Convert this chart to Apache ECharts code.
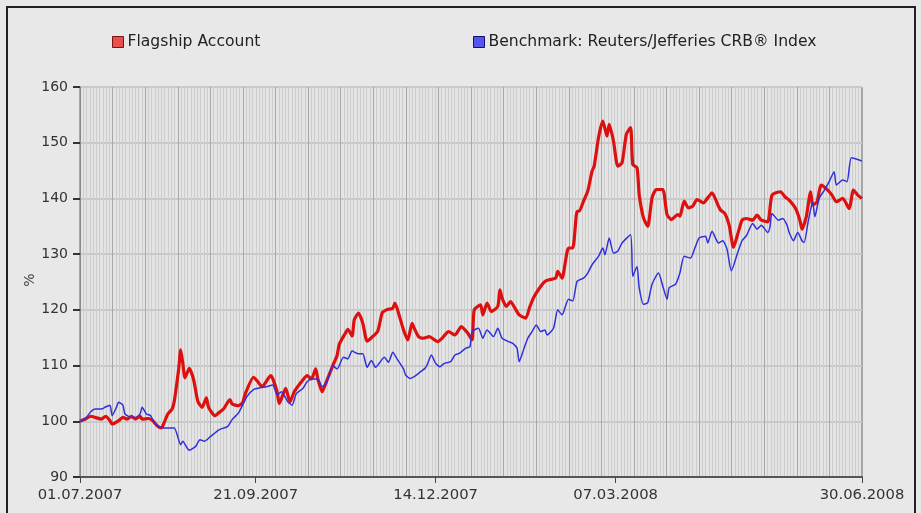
<!DOCTYPE html>
<html lang="en">
<head>
	<meta charset="UTF-8">
	<title>Flagship Account vs CRB Index</title>
	<style type="text/css">
	html, body {
		margin: 0;
		padding: 0;
		background: #e8e8e8;
	}
	.chart {
		width: 921px;
		height: 513px;
	}
</style>
</head>
<body>
	<div class="chart"></div>

	<script type="text/javascript" src="https://cdn.jsdelivr.net/npm/echarts@6/dist/echarts.min.js"></script>
	<script type="text/javascript">

		// days counted from 01.07.2007
		var redDays = [0, 3, 5, 7, 10, 12, 14, 15, 18, 20, 22, 24, 26, 28, 29, 32, 34, 36, 38, 39,
			41, 43, 44, 46, 47, 48, 49, 51, 53, 55, 57, 59, 60, 63, 65, 67, 70, 71, 74, 76,
			77, 81, 83, 85, 89, 90, 92, 93, 96, 98, 100, 104, 106, 108, 110, 111, 113, 115, 118, 120,
			121, 124, 125, 127, 128, 130, 132, 134, 136, 139, 141, 143, 146, 147, 149, 151, 153, 155, 156, 158,
			160, 163, 167, 169, 172, 175, 178, 181, 183, 184, 187, 188, 190, 192, 195, 196, 197, 199, 201, 203,
			205, 208, 210, 212, 215, 217, 219, 222, 223, 225, 228, 230, 232, 233, 235, 237, 239, 240, 242, 244,
			246, 247, 249, 251, 253, 255, 257, 258, 260, 261, 263, 265, 267, 269, 272, 274, 276, 279, 280, 282,
			284, 286, 288, 291, 293, 295, 298, 299, 301, 303, 305, 307, 309, 311, 314, 316, 318, 321, 323, 327,
			329, 331, 334, 336, 337, 339, 341, 342, 344, 346, 349, 351, 353, 356, 359, 361, 363, 365];
		var redValues = [100.0, 100.5, 100.9, 100.7, 100.4, 100.9, 100.1, 99.5, 100.1, 100.7, 100.4, 100.9, 100.4, 100.9, 100.4, 100.5, 100.1, 99.2, 98.8, 99.5,
			101.3, 102.2, 103.6, 109.2, 112.8, 110.4, 107.8, 109.5, 107.5, 103.6, 102.5, 104.2, 102.5, 101.0, 101.6, 102.2, 103.9, 103.1, 102.8, 103.4,
			104.8, 107.9, 107.1, 106.2, 108.2, 107.6, 105.3, 103.2, 105.9, 103.5, 105.3, 107.4, 108.2, 107.6, 109.4, 107.6, 105.3, 107.1, 110.0, 111.8,
			113.8, 115.9, 116.5, 115.3, 118.2, 119.4, 117.6, 114.4, 115.0, 116.2, 119.4, 120.0, 120.3, 121.2, 119.0, 116.4, 114.6, 117.6, 116.7, 115.2,
			114.9, 115.2, 114.3, 114.9, 116.1, 115.5, 117.0, 115.8, 114.6, 120.0, 120.9, 119.1, 121.2, 119.7, 120.6, 123.6, 122.1, 120.6, 121.5, 120.3,
			119.1, 118.5, 120.6, 122.4, 124.2, 125.1, 125.4, 125.7, 126.9, 125.7, 131.1, 131.1, 137.7, 137.7, 139.5, 141.3, 144.9, 145.8, 150.9, 153.9,
			151.2, 153.3, 150.3, 145.8, 146.4, 151.5, 152.7, 146.1, 145.5, 140.7, 136.5, 135.0, 140.1, 141.6, 141.6, 137.1, 136.2, 137.1, 136.8, 139.5,
			138.3, 138.6, 139.8, 139.2, 140.1, 141.0, 138.6, 137.9, 137.3, 135.2, 131.2, 133.6, 136.1, 136.4, 136.1, 137.0, 136.1, 135.8, 140.6, 141.2,
			140.3, 139.7, 138.2, 136.1, 134.5, 136.7, 141.2, 138.8, 139.4, 142.4, 141.5, 140.6, 139.4, 140.0, 138.2, 141.5, 140.6, 140.0];

		var blueDays = [0, 3, 5, 7, 10, 12, 14, 15, 17, 18, 20, 21, 24, 26, 28, 29, 31, 33, 35, 38,
			41, 44, 47, 48, 50, 51, 54, 56, 58, 61, 63, 65, 69, 71, 74, 76, 78, 81, 84, 87,
			90, 92, 94, 97, 99, 101, 104, 106, 108, 111, 113, 115, 118, 120, 123, 125, 127, 130, 132, 134,
			136, 138, 140, 142, 144, 146, 148, 151, 152, 154, 156, 159, 161, 162, 164, 166, 168, 170, 173, 175,
			177, 180, 182, 183, 186, 188, 190, 193, 195, 197, 200, 202, 204, 205, 207, 209, 211, 213, 215, 217,
			218, 221, 223, 225, 228, 230, 232, 235, 237, 239, 242, 244, 245, 247, 249, 251, 253, 257, 258, 260,
			261, 263, 265, 267, 270, 272, 274, 275, 278, 280, 282, 285, 287, 289, 292, 293, 295, 298, 300, 302,
			304, 307, 309, 311, 314, 316, 318, 321, 322, 323, 326, 328, 330, 331, 333, 335, 337, 338, 340, 342,
			343, 345, 348, 350, 352, 353, 356, 358, 360, 363, 365];
		var blueValues = [100.0, 100.7, 101.7, 102.2, 102.2, 102.6, 102.9, 101.0, 102.5, 103.4, 102.9, 101.3, 100.7, 100.7, 101.3, 102.5, 101.3, 101.0, 99.5, 98.9,
			98.8, 98.8, 95.8, 96.4, 95.2, 94.8, 95.5, 96.7, 96.4, 97.3, 97.9, 98.5, 99.1, 100.3, 101.5, 103.0, 104.5, 105.7, 106.0, 106.2,
			106.5, 104.7, 105.3, 103.5, 102.9, 105.0, 105.9, 107.1, 107.6, 107.6, 106.2, 106.8, 110.0, 109.4, 111.5, 111.2, 112.6, 112.1, 112.1, 109.7,
			110.9, 109.7, 110.6, 111.5, 110.6, 112.4, 111.2, 109.4, 108.3, 107.7, 108.0, 108.9, 109.5, 110.1, 111.9, 110.4, 109.8, 110.4, 110.7, 111.9,
			112.2, 113.1, 113.4, 116.1, 116.7, 114.9, 116.4, 115.2, 116.7, 114.9, 114.3, 114.0, 113.1, 110.7, 112.8, 114.9, 116.1, 117.3, 116.1, 116.4,
			115.5, 116.7, 120.0, 119.1, 121.9, 121.6, 125.1, 125.7, 126.6, 128.1, 129.6, 131.1, 129.9, 132.9, 130.2, 130.5, 132.0, 133.5, 126.0, 127.8,
			124.0, 121.0, 121.3, 124.6, 126.6, 124.3, 121.9, 124.0, 124.6, 126.6, 129.6, 129.3, 131.1, 132.9, 133.2, 132.0, 134.1, 132.0, 132.4, 130.9,
			127.0, 130.3, 132.4, 133.3, 135.5, 134.5, 135.2, 133.9, 134.8, 137.3, 136.1, 136.4, 135.2, 133.9, 132.4, 133.9, 132.4, 132.1, 136.1, 139.4,
			136.7, 140.0, 141.8, 143.3, 144.8, 142.4, 143.3, 143.0, 147.3, 147.0, 146.7];

		var xLabelDays = [0, 82, 166, 250, 365];
		var xLabels = ['01.07.2007', '21.09.2007', '14.12.2007', '07.03.2008', '30.06.2008'];

		function pairs (days, values) {
			var arr = [];
			days.forEach(function (d, i) {
				arr.push([d, values[i]]);
			});
			return arr;
		}

		var chart = echarts.init(document.getElementsByClassName('chart')[0]);
		var font = 'DejaVu Sans';

		var option = {
			backgroundColor: '#e8e8e8',
			animation: false,
			textStyle: { fontFamily: font },
			legend: [{
				data: ['Flagship Account'],
				left: 107,
				top: 29,
				icon: 'rect',
				itemWidth: 11,
				itemHeight: 11,
				itemStyle: { color: '#e85050', borderColor: '#7a1010', borderWidth: 1 },
				textStyle: { color: '#222', fontSize: 15.6, fontFamily: font, padding: [0, 0, 0, -1] }
			}, {
				data: ['Benchmark: Reuters/Jefferies CRB® Index'],
				left: 468,
				top: 29,
				icon: 'rect',
				itemWidth: 11,
				itemHeight: 11,
				itemStyle: { color: '#5555ee', borderColor: '#101070', borderWidth: 1 },
				textStyle: { color: '#222', fontSize: 15.6, fontFamily: font, padding: [0, 0, 0, -1] }
			}],
			grid: {
				left: 80,
				right: 59,
				top: 87,
				bottom: 36,
				show: true,
				backgroundColor: '#e4e4e4',
				borderColor: '#666',
				borderWidth: 1
			},
			xAxis: [{
				type: 'value',
				min: 0,
				max: 365,
				axisLine: { show: true, lineStyle: { color: '#555', width: 2 } },
				axisTick: { show: true, customValues: xLabelDays, length: 6, lineStyle: { color: '#444' } },
				axisLabel: {
					customValues: xLabelDays,
					color: '#333',
					fontSize: 14.8,
					margin: 11,
					formatter: function (v) {
						return xLabels[xLabelDays.indexOf(v)];
					}
				},
				splitLine: { show: false }
			}, {
				// half-month grid with business-day minor lines
				type: 'value',
				position: 'top',
				min: 0,
				max: 24,
				interval: 1,
				axisLine: { show: false },
				axisTick: { show: false },
				axisLabel: { show: false },
				splitLine: { show: true, lineStyle: { color: '#a8a8a8', width: 1 } },
				minorTick: { show: false, splitNumber: 10 },
				minorSplitLine: { show: true, lineStyle: { color: '#cdcdcd', width: 1 } }
			}],
			yAxis: {
				type: 'value',
				min: 90,
				max: 160,
				interval: 10,
				axisLine: { show: true, lineStyle: { color: '#888', width: 1 } },
				axisTick: { show: true, length: 7, lineStyle: { color: '#333', width: 2 } },
				axisLabel: { color: '#333', fontSize: 14, margin: 12 },
				splitLine: { show: true, lineStyle: { color: '#c8c8c8', width: 2 } }
			},
			series: [{
				name: 'Flagship Account',
				type: 'line',
				data: pairs(redDays, redValues),
				showSymbol: false,
				smooth: 0.2,
				lineStyle: { color: '#dd1010', width: 3.2 },
				itemStyle: { color: '#dd1010' },
				z: 3
			}, {
				name: 'Benchmark: Reuters/Jefferies CRB® Index',
				type: 'line',
				data: pairs(blueDays, blueValues),
				showSymbol: false,
				smooth: 0.2,
				lineStyle: { color: '#3030dd', width: 1.5 },
				itemStyle: { color: '#3030dd' },
				z: 4
			}],
			graphic: [{
				type: 'rect',
				shape: { x: 7, y: 7, width: 908, height: 530 },
				style: { fill: 'none', stroke: '#222', lineWidth: 2 },
				silent: true
			}, {
				// y axis unit, rotated like the original
				type: 'text',
				x: 30,
				y: 280,
				rotation: Math.PI / 2,
				style: {
					text: '%',
					fill: '#444',
					font: '14px "DejaVu Sans"',
					align: 'center',
					verticalAlign: 'middle'
				},
				silent: true
			}]
		};

		chart.setOption(option);

	</script>
</body>
</html>
